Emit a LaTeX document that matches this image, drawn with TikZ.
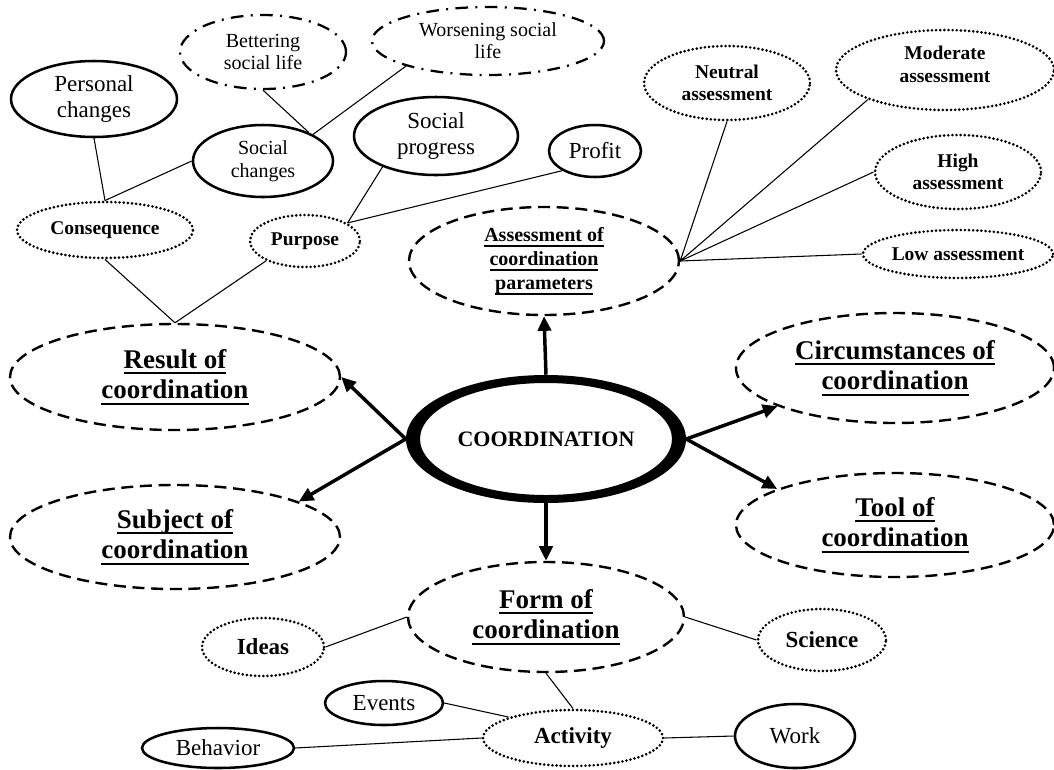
\documentclass[tikz,border=0pt]{standalone}
\usepackage{fontspec}
\setmainfont{Liberation Serif}
\usetikzlibrary{shapes.geometric,arrows.meta}
\newcommand\uln[2][1.7pt]{\setbox0\hbox{#2}\rlap{\rule[-4.5pt]{\wd0}{#1}}\box0}
\newcommand\fbig{\fontsize{20.25pt}{23pt}\selectfont\bfseries}
\newcommand\fmed{\fontsize{17.25pt}{20pt}\selectfont}
\newcommand\fmedb{\fontsize{17.25pt}{20pt}\selectfont\bfseries}
\newcommand\fsm{\fontsize{15pt}{16.5pt}\selectfont}
\newcommand\fsmc{\fontsize{15pt}{17.5pt}\selectfont}
\newcommand\fsmb{\fontsize{14.6pt}{17pt}\selectfont\bfseries}
\newcommand\fas{\fontsize{15pt}{18pt}\selectfont\bfseries}
\newcommand\fcoord{\fontsize{16.5pt}{19pt}\selectfont\bfseries}
\begin{document}
\begin{tikzpicture}[x=0.75pt,y=-0.75pt,
  el/.style 2 args={ellipse, inner sep=0pt, minimum width=#1*1.5pt, minimum height=#2*1.5pt, align=center},
  sol/.style={draw, line width=1.9pt},
  dsh/.style={draw, line width=1.8pt, dash pattern=on 9pt off 5pt},
  dotline/.style={draw, line width=2.2pt, dash pattern=on 0pt off 3.1pt, line cap=round},
  ddot/.style={draw, line width=1.7pt, dash pattern=on 9.5pt off 5.5pt on 1.5pt off 5.5pt},
  conn/.style={line width=0.8pt},
  bigarrow/.style={line width=2.6pt, -{Triangle[length=11pt,width=10pt]}},
]
\useasboundingbox (0,0) rectangle (1054,769);
% ---------- top left ----------
\node[el={83}{38}, sol, font=\fmed] (pers) at (94,99) {Personal\\changes};
\node[el={83}{37}, ddot, font=\fsm] (bett) at (263,52) {Bettering\\social life};
\node[el={116}{34}, ddot, font=\fsm] (wors) at (488,41) {Worsening social\\life};
\node[el={70}{36}, sol, font=\fsmc] (socch) at (263,161) {Social\\changes};
\node[el={82}{39}, sol, font=\fmed] (socprog) at (436,136) {Social\\progress};
\node[el={46}{26}, sol, font=\fmed] (profit) at (595,151) {Profit};
\node[el={88}{28}, dotline, font=\fsmb] (cons) at (105,230) {Consequence};
\node[el={55}{26}, dotline, font=\fsmb] (pur) at (305,241) {Purpose};
% ---------- top right ----------
\node[el={135}{54}, dsh, font=\fas] (assess) at (544,261) {\uln[1.2pt]{Assessment of}\\\uln[1.2pt]{coordination}\\\uln[1.2pt]{parameters}};
\node[el={83}{37}, dotline, font=\fsmb] (neut) at (727,83) {Neutral\\assessment};
\node[el={109}{40}, dotline, font=\fsmb] (mod) at (945,70) {Moderate\\assessment\\[-8pt]\mbox{}};
\node[el={83}{37}, dotline, font=\fsmb] (high) at (958,172) {High\\assessment};
\node[el={95}{24}, dotline, font=\fsmb] (low) at (958,254) {Low assessment};
% ---------- middle ----------
\node[el={140}{64}, font=\fcoord] (coord) at (546,439) {COORDINATION};
\node[el={165}{53}, dsh, font=\fbig] (res) at (175,377) {\uln{Result of}\\\uln{coordination}};
\node[el={165}{52}, dsh, font=\fbig] (subj) at (175,537) {\uln{Subject of}\\\uln{coordination}};
\node[el={159}{55}, dsh, font=\fbig] (circ) at (895,368) {\uln{Circumstances of}\\\uln{coordination}};
\node[el={159}{52}, dsh, font=\fbig] (tool) at (895,525) {\uln{Tool of}\\\uln{coordination}};
% ---------- bottom ----------
\node[el={138}{55}, dsh, font=\fbig] (form) at (546,617) {\uln{Form of}\\\uln{coordination}};
\node[el={61}{29}, dotline, font=\fmedb] (ideas) at (263,647) {Ideas};
\node[el={64}{31}, dotline, font=\fmedb] (science) at (822,640) {Science};
\node[el={59}{22}, sol, font=\fmed] (events) at (384,703) {Events};
\node[el={90}{28}, dotline, font=\fmedb] (act) at (573,738) {Activity};
\node[el={60}{32}, sol, font=\fmed] (work) at (795,736) {Work};
\node[el={76}{20}, sol, font=\fmed] (behav) at (218,748) {Behavior};
% ---------- thin connectors ----------
\draw[conn] (pers.south) -- (cons.north);
\draw[conn] (socch.west) -- (cons.north);
\draw[conn] (bett.south) -- (socch.32);
\draw[conn] (wors.197) -- (socch.28);
\draw[conn] (socprog.210) -- (pur.23);
\draw[conn] (profit.211) -- (pur.23);
\draw[conn] (cons.south) -- (res.north);
\draw[conn] (pur.207) -- (res.north);
\draw[conn, -{To[length=3pt,width=5pt]}] (neut.south) -- (assess.east);
\draw[conn] (mod.201) -- (assess.east);
\draw[conn] (high.west) -- (assess.east);
\draw[conn] (low.west) -- (assess.east);
\draw[conn] (ideas.east) -- (form.west);
\draw[conn] (form.east) -- (science.west);
\draw[conn] (form.south) -- (act.north);
\draw[conn] (events.east) -- (act.162);
\draw[conn] (behav.east) -- (act.west);
\draw[conn] (act.east) -- (work.west);
% ---------- thick arrows ----------
\draw[bigarrow] (coord.north) -- (assess.south);
\draw[bigarrow] (coord.south) -- (form.north);
\draw[bigarrow] (coord.west) -- (res.east);
\draw[bigarrow] (coord.west) -- (subj.16);
\draw[bigarrow] (coord.east) -- (circ.198);
\draw[bigarrow] (coord.east) -- (tool.163);
% ---------- ring of COORDINATION ----------
\fill[black, even odd rule] (coord.center) ellipse [x radius=105pt, y radius=48pt]
  (coord.center) ellipse [x radius=94.5pt, y radius=42pt];
\end{tikzpicture}
\end{document}
